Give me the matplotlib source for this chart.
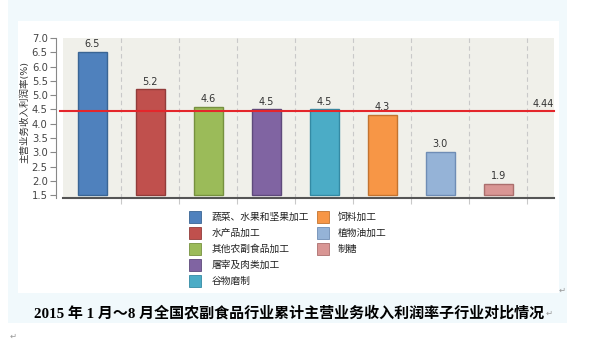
import numpy as np
import matplotlib
matplotlib.use('Agg')
import matplotlib.pyplot as plt
from matplotlib.patches import Rectangle

plt.rcParams['font.family'] = ['DejaVu Sans', 'Noto Sans CJK SC']

# chart data
categories = ['蔬菜、水果和坚果加工', '水产品加工', '其他农副食品加工', '屠宰及肉类加工',
              '谷物磨制', '饲料加工', '植物油加工', '制糖']
values = [6.5, 5.2, 4.6, 4.5, 4.5, 4.3, 3.0, 1.9]
average = 4.44
base = 1.5
yticks = [1.5, 2.0, 2.5, 3.0, 3.5, 4.0, 4.5, 5.0, 5.5, 6.0, 6.5, 7.0]
ylabel = '主营业务收入利润率(%)'
title = '2015 年 1 月～8 月全国农副食品行业累计主营业务收入利润率子行业对比情况'

colors = ['#4f81bd', '#c0504d', '#9bbb59', '#8064a2', '#4bacc6', '#f79646', '#95b3d7', '#d99694']
edges = ['#3a6594', '#923c3a', '#76913f', '#5e4a7b', '#348aa3', '#c3732f', '#6f8db5', '#ab6f6d']

W, H = 592, 343


def box(x0, y0, w, h):
    # pixel box (top-left origin) -> figure fraction
    return [x0 / W, 1 - (y0 + h) / H, w / W, h / H]


fig = plt.figure(figsize=(W / 100, H / 100), dpi=100)

# page-like backgrounds
b = box(8, 0, 559, 323)
fig.patches.append(Rectangle((b[0], b[1]), b[2], b[3], transform=fig.transFigure,
                             facecolor='#f1f9fc', edgecolor='none', zorder=-2))
b = box(18, 21, 541, 272)
fig.patches.append(Rectangle((b[0], b[1]), b[2], b[3], transform=fig.transFigure,
                             facecolor='white', edgecolor='none', zorder=-1))

ax = fig.add_axes(box(63, 38, 491, 160))
ax.set_zorder(1)
ax.set_facecolor('#f0f0ea')

x = np.arange(len(values))
ax.bar(x, np.array(values) - base, bottom=base, width=0.5, color=colors, edgecolor=edges,
       linewidth=1, zorder=3)
for xi, v in zip(x, values):
    ax.text(xi, v + 0.1, f'{v:.1f}', ha='center', va='bottom', fontsize=7, color='#333333')

for gx in np.arange(0.5, len(values)):
    ax.axvline(gx, color='#c9c9c9', ls=(0, (4, 3)), lw=0.8, zorder=1)

ax.plot([-0.56, 7.96], [average, average], color='#e4262b', lw=1.5, zorder=4, clip_on=False)
ax.text(7.78, average + 0.06, f'{average:.2f}', ha='center', va='bottom', fontsize=7, color='#333333')

ax.set_xlim(-0.5, 7.96)
ax.set_ylim(1.40, 7.0)
ax.set_yticks(yticks)
ax.set_yticklabels([f'{t:.1f}' for t in yticks], family='Liberation Sans')
ax.set_xticks(np.arange(0.5, len(values)))
ax.set_xticklabels([])
ax.tick_params(axis='x', direction='out', length=4, color='#c9c9c9')
ax.tick_params(axis='y', direction='out', length=4, color='#888888', labelsize=7.2,
               labelcolor='#444444', pad=2)

for s in ['top', 'right']:
    ax.spines[s].set_visible(False)
ax.spines['left'].set_position(('outward', 5))
ax.spines['left'].set_color('#888888')
ax.spines['bottom'].set_color('#555555')
ax.spines['bottom'].set_linewidth(1.5)

fig.text(25 / W, 1 - 112 / H, ylabel, rotation=90, ha='center', va='center',
         fontsize=6.8, color='#333333')

# legend, five rows in the first column, three in the second
for i, (name, c, e) in enumerate(zip(categories, colors, edges)):
    col, row = (0, i) if i < 5 else (1, i - 5)
    sx = 189 if col == 0 else 317
    tx = 212 if col == 0 else 338
    cy = 217 + 16 * row
    b = box(sx, cy - 6, 12, 12)
    fig.patches.append(Rectangle((b[0], b[1]), b[2], b[3], transform=fig.transFigure,
                                 facecolor=c, edgecolor=e, lw=0.6, zorder=2))
    fig.text(tx / W, 1 - cy / H, name, ha='left', va='center', fontsize=7, color='#222222')

fig.text(289 / W, 1 - 313 / H, title, ha='center', va='center', fontsize=10.8,
         fontweight='bold', family=['Liberation Serif', 'Noto Sans CJK SC'], color='black')

# paragraph marks
for mx, my in [(562, 290), (549, 313), (13, 336)]:
    fig.text(mx / W, 1 - my / H, '↵', ha='center', va='center', fontsize=6, color='#999999')

fig.savefig('out.png', dpi=100)
